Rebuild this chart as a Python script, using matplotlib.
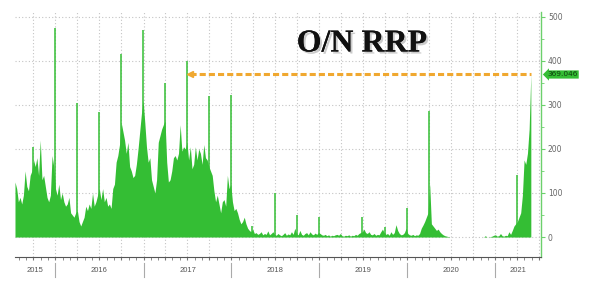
import numpy as np
import pandas as pd
import matplotlib
matplotlib.use('Agg')
import matplotlib.pyplot as plt
import matplotlib.dates as mdates
import matplotlib.patheffects as pe

# weekly O/N RRP usage ($bn), Fridays
rrp_2015 = [125, 110, 80, 90, 75, 95, 150, 115, 105, 140, 150, 175, 160, 180, 140, 220, 130, 140, 115, 90,
            80, 95, 185, 160]
rrp_2016 = [110, 95, 120, 85, 100, 80, 70, 75, 90, 55, 50, 45, 55, 60, 35, 25, 35, 45, 70, 60,
            75, 65, 100, 70, 80, 95, 110, 85, 110, 80, 90, 70, 75, 65, 110, 120, 170, 185, 210, 260,
            240, 220, 190, 215, 160, 150, 135, 140, 165, 200, 240, 280, 310]
rrp_2017 = [260, 205, 170, 180, 130, 115, 100, 130, 215, 230, 245, 255, 265, 170, 125, 130, 150, 180, 185, 175,
            190, 255, 195, 205, 200, 215, 175, 205, 155, 165, 205, 175, 200, 190, 165, 210, 180, 175, 160, 150,
            140, 105, 80, 95, 75, 55, 80, 85, 70, 140, 110, 120]
rrp_2018 = [80, 60, 65, 55, 40, 30, 35, 45, 30, 20, 15, 12, 18, 8, 10, 6, 8, 12, 5, 8,
            6, 14, 5, 8, 12, 6, 4, 8, 5, 3, 6, 10, 4, 7, 5, 12, 6, 20, 8, 5,
            15, 6, 4, 8, 10, 5, 12, 7, 5, 9, 6, 10]
rrp_2019 = [8, 5, 4, 6, 3, 5, 2, 4, 3, 5, 6, 4, 8, 3, 2, 4, 3, 5, 2, 4,
            3, 6, 4, 8, 10, 12, 18, 10, 8, 12, 6, 5, 8, 4, 6, 5, 12, 18, 10, 6,
            8, 4, 12, 6, 10, 28, 15, 8, 5, 6, 10, 20]
rrp_2020 = [8, 5, 4, 6, 3, 5, 4, 8, 20, 27, 35, 45, 55, 120, 30, 25, 20, 15, 18, 12,
            8, 5, 3, 2, 1, 0, 0, 0, 0, 0, 0, 0, 0, 0, 0, 0, 0, 0, 0, 0,
            0, 0, 0, 0, 0, 0, 3, 0, 0, 1, 2, 4]
rrp_2021 = [5, 2, 3, 8, 3, 2, 4, 3, 12, 6, 15, 25, 30, 35, 45, 55, 95, 175, 165, 190,
            245, 369]
first_fridays = ['2015-07-17', '2016-01-01', '2017-01-06', '2018-01-05',
                 '2019-01-04', '2020-01-03', '2021-01-01']

# quarter-end spikes
spike_dates = ['2015-09-30', '2015-12-31', '2016-03-31', '2016-06-30', '2016-09-30', '2016-12-30',
               '2017-03-31', '2017-06-30', '2017-09-29', '2017-12-29', '2018-03-29', '2018-06-29',
               '2018-09-28', '2018-12-31', '2019-06-28', '2019-09-30', '2019-12-31', '2020-03-31',
               '2021-03-31']
spike_vals = [205, 475, 304, 283, 415, 470, 350, 400, 320, 323, 25, 100,
              50, 46, 46, 22, 65, 286, 141]

last_val = 369.046
years = [2015, 2016, 2017, 2018, 2019, 2020, 2021]

blocks = [rrp_2015, rrp_2016, rrp_2017, rrp_2018, rrp_2019, rrp_2020, rrp_2021]
dates = []
vals = []
for start, b in zip(first_fridays, blocks):
    dates += list(pd.date_range(start, periods=len(b), freq='7D'))
    vals += b
dates = pd.DatetimeIndex(dates)
vals = np.array(vals, dtype=float)

green = '#34be34'
fig = plt.figure(figsize=(5.97, 2.85), dpi=100)
ax = fig.add_axes([0.0251, 0.098, 0.881, 0.860])

ax.fill_between(dates, vals, 0, color=green, lw=0, zorder=3)
ax.vlines(pd.to_datetime(spike_dates), 0, spike_vals, color=green, lw=1.1, zorder=3)

x0 = pd.Timestamp('2015-07-17')
x1 = pd.Timestamp('2021-07-09')
ax.set_xlim(x0, x1)
ax.set_ylim(-45.5, 511)

# orange reference line at latest level
ax.plot([pd.Timestamp('2017-07-12'), dates[-1]], [last_val, last_val], color='#f0a830',
        lw=2.2, dashes=(2, 1), dash_capstyle='butt', zorder=4)
ax.plot([pd.Timestamp('2017-07-12')], [last_val], marker='<', color='#f0a830', ms=4, zorder=4)

# axes styling
for s in ['left', 'top']:
    ax.spines[s].set_visible(False)
ax.spines['right'].set_color('#6cd06c')
ax.spines['right'].set_linewidth(1.0)
ax.spines['bottom'].set_color('#555555')
ax.spines['bottom'].set_linewidth(0.8)

ax.yaxis.tick_right()
ax.set_yticks(np.arange(0, 501, 100))
ax.set_yticks(np.arange(50, 500, 100), minor=True)
ax.tick_params(axis='y', which='major', length=3, color='#6cd06c', labelsize=5.5,
               labelcolor='#666666', pad=2)
ax.tick_params(axis='y', which='minor', length=2, color='#6cd06c')

ax.xaxis.set_major_locator(mdates.MonthLocator(bymonth=[1, 4, 7, 10]))
ax.xaxis.set_minor_locator(mdates.MonthLocator())
ax.tick_params(axis='x', which='both', length=2, color='#777777', labelbottom=False)

ax.grid(True, which='major', color='#c4c4c4', linestyle=(0, (1, 2)), lw=0.8, zorder=0)

# year labels and separators
xt = ax.get_xaxis_transform()
for y in years:
    a = max(pd.Timestamp(f'{y}-01-01'), x0)
    b = min(pd.Timestamp(f'{y + 1}-01-01'), x1)
    mid = a + (b - a) / 2
    ax.text(mid, -0.056, str(y), transform=xt, ha='center', va='center',
            fontsize=5.5, color='#555555', family='Liberation Sans')
    if y > 2015:
        ax.plot([a, a], [-0.025, -0.08], transform=xt, color='#aaaaaa', lw=0.8, clip_on=False)

# latest value tag
ax.text(1.012, last_val, f'{last_val:.3f}', transform=ax.get_yaxis_transform(),
        ha='left', va='center', fontsize=5.3, color='#0d3d0d',
        bbox=dict(boxstyle='larrow,pad=0.15', fc=green, ec='none'))

fig.text(362 / 597, 1 - 44 / 285, 'O/N RRP', ha='center', va='center',
         fontsize=23, fontweight='bold', family='Liberation Serif', color='#111111',
         path_effects=[pe.withSimplePatchShadow(offset=(1.5, -1.5), shadow_rgbFace='#999999', alpha=0.5),
                       pe.Normal()])

fig.savefig('out.png', dpi=100, facecolor='white')
